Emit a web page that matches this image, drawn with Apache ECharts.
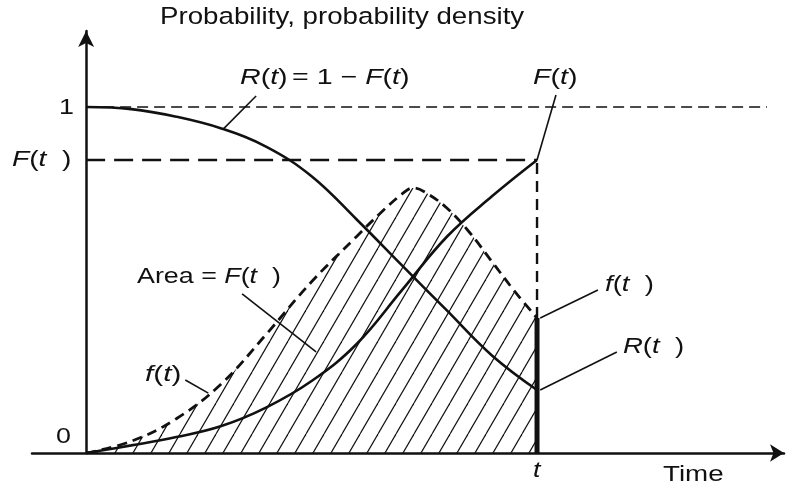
<!DOCTYPE html>
<html>
<head>
<meta charset="utf-8">
<script src="https://cdn.jsdelivr.net/npm/echarts@6/dist/echarts.min.js"></script>
<style>
  html, body { margin: 0; padding: 0; background: #fff; }
  #chart { width: 792px; height: 492px; }
</style>
</head>
<body>
<div id="chart"></div>
<script>
// Reliability R(t), cumulative failure F(t) and failure density f(t) against time.
// Time is scaled so that the marked instant t equals 1.

// Reliability R(t) = 1 - F(t)
const relTime  = [0, 0.1, 0.2, 0.3, 0.4, 0.5, 0.6, 0.7, 0.8, 0.9, 1.0];
const relValue = [1.0, 0.994, 0.972, 0.938, 0.885, 0.800, 0.675, 0.543, 0.412, 0.282, 0.182];

// Cumulative failure probability F(t)
const cdfTime  = [0, 0.1, 0.2, 0.3, 0.4, 0.5, 0.6, 0.7, 0.8, 0.9, 1.0];
const cdfValue = [0, 0.022, 0.046, 0.078, 0.132, 0.208, 0.315, 0.470, 0.625, 0.742, 0.847];

// Failure probability density f(t), hatched up to t
const pdfTime  = [0, 0.1, 0.2, 0.3, 0.4, 0.5, 0.6, 0.65, 0.7, 0.725, 0.75, 0.8, 0.85, 0.9, 0.95, 1.0];
const pdfValue = [0, 0.034, 0.099, 0.200, 0.344, 0.495, 0.626, 0.690, 0.748, 0.766, 0.755, 0.708, 0.638, 0.553, 0.468, 0.390];

// The marked instant and the value levels read at it
const tMark = 1.0;
const fAtT = pdfValue[pdfValue.length - 1];
const FAtT = cdfValue[cdfValue.length - 1];
const unitLevel = 1;
const unitLineEnd = 1.51;

// Leader lines tying the captions to the curves: [fromTime, fromValue, toTime, toValue]
const leaders = [
  [0.304, 0.936, 0.377, 1.032],   // R(t) = 1 - F(t)
  [1.000, 0.847, 1.042, 1.035],   // F(t)
  [0.346, 0.460, 0.510, 0.292],   // Area = F(t)
  [0.220, 0.211, 0.271, 0.173],   // f(t) on the left
  [1.007, 0.390, 1.135, 0.471],   // f(t) at t
  [1.007, 0.182, 1.177, 0.292]    // R(t) at t
];

const INK = '#111';
const FONT = '"Liberation Sans", Arial, Helvetica, sans-serif';

// Diagonal hatch tile for the area under f(t)
const hatch = (function () {
  const w = 18, h = 31;
  const c = document.createElement('canvas');
  c.width = w; c.height = h;
  const g = c.getContext('2d');
  g.strokeStyle = INK;
  g.lineWidth = 1.2;
  [-w, 0, w].forEach(function (dx) {
    g.beginPath();
    g.moveTo(dx, h);
    g.lineTo(dx + w, 0);
    g.stroke();
  });
  return c;
})();

const zip = (xs, ys) => xs.map((x, i) => [x, ys[i]]);

const baseLine = { symbol: 'none', silent: true, animation: false };

const series = [
  Object.assign({}, baseLine, {
    name: 'f(t)',
    type: 'line',
    data: zip(pdfTime, pdfValue),
    smooth: 0.4,
    lineStyle: { color: INK, width: 2.8, type: [10, 6] },
    areaStyle: { color: { image: hatch, repeat: 'repeat' }, opacity: 1 },
    z: 2
  }),
  Object.assign({}, baseLine, {
    name: 'R(t)',
    type: 'line',
    data: zip(relTime, relValue),
    smooth: 0.4,
    lineStyle: { color: INK, width: 2.6 },
    z: 4
  }),
  Object.assign({}, baseLine, {
    name: 'F(t)',
    type: 'line',
    data: zip(cdfTime, cdfValue),
    smooth: 0.4,
    lineStyle: { color: INK, width: 2.6 },
    z: 4
  }),
  // level 1
  Object.assign({}, baseLine, {
    type: 'line',
    data: [[0, unitLevel], [unitLineEnd, unitLevel]],
    lineStyle: { color: INK, width: 1.5, type: [11, 6] },
    z: 3
  }),
  // level F(t)
  Object.assign({}, baseLine, {
    type: 'line',
    data: [[0, FAtT], [tMark, FAtT]],
    lineStyle: { color: INK, width: 2.4, type: [19, 9] },
    z: 3
  }),
  // vertical guide from f(t) up to F(t)
  Object.assign({}, baseLine, {
    type: 'line',
    data: [[tMark, fAtT], [tMark, FAtT]],
    lineStyle: { color: INK, width: 2.4, type: [11, 7] },
    z: 3
  }),
  // ordinate f(t) at t
  Object.assign({}, baseLine, {
    type: 'line',
    data: [[tMark, 0], [tMark, fAtT]],
    lineStyle: { color: INK, width: 5, cap: 'butt' },
    z: 5
  })
].concat(leaders.map(function (s) {
  return Object.assign({}, baseLine, {
    type: 'line',
    data: [[s[0], s[1]], [s[2], s[3]]],
    lineStyle: { color: INK, width: 1.6 },
    z: 5
  });
}));

// Text helpers
const rich = {
  n: { fontFamily: FONT, fontSize: 22, fill: INK },
  i: { fontFamily: FONT, fontSize: 22, fontStyle: 'italic', fill: INK }
};
function caption(left, cy, text, sx, size) {
  const r = size ? {
    n: Object.assign({}, rich.n, { fontSize: size }),
    i: Object.assign({}, rich.i, { fontSize: size })
  } : rich;
  return {
    type: 'text', x: left, y: cy, scaleX: sx || 1.22, silent: true,
    style: { x: 0, y: 0, text: text, rich: r, align: 'left', verticalAlign: 'middle', fill: INK }
  };
}

const graphics = [
  caption(160, 17, '{n|Probability, probability density}', 1.13, 24.5),
  caption(240, 78, '{i|R}{n|(}{i|t}{n|)} {n|= 1 − }{i|F}{n|(}{i|t}{n|)}', 1.3),
  caption(533, 78, '{i|F}{n|(}{i|t}{n|)}', 1.3),
  caption(59, 108, '{n|1}'),
  caption(12, 160, '{i|F}{n|(}{i|t}{n|  )}', 1.28),
  caption(56, 437, '{n|0}'),
  caption(137, 277, '{n|Area = }{i|F}{n|(}{i|t}{n|  )}'),
  caption(145, 375, '{i|f}{n|(}{i|t}{n|)}', 1.35),
  caption(605, 285, '{i|f}{n|(}{i|t}{n|  )}', 1.25),
  caption(623, 347, '{i|R}{n|(}{i|t}{n|  )}', 1.25),
  caption(533, 471, '{i|t}'),
  caption(663, 475, '{n|Time}', 1.26)
];

const chart = echarts.init(document.getElementById('chart'), null, { renderer: 'canvas' });
chart.setOption({
  backgroundColor: '#fff',
  animation: false,
  grid: { left: 32, right: 8, top: 31, bottom: 39, containLabel: false },
  xAxis: {
    type: 'value', min: -0.12, max: 1.5477,
    axisLine: { onZero: true, symbol: ['none', 'arrow'], symbolSize: [13, 14], lineStyle: { color: INK, width: 2.5 } },
    axisTick: { show: false }, axisLabel: { show: false }, splitLine: { show: false }
  },
  yAxis: {
    type: 'value', min: 0, max: 1.2197,
    axisLine: { show: true, onZero: true, symbol: ['none', 'arrow'], symbolSize: [12, 16], lineStyle: { color: INK, width: 2.5 } },
    axisTick: { show: false }, axisLabel: { show: false }, splitLine: { show: false }
  },
  series: series,
  graphic: graphics
});
</script>
</body>
</html>
